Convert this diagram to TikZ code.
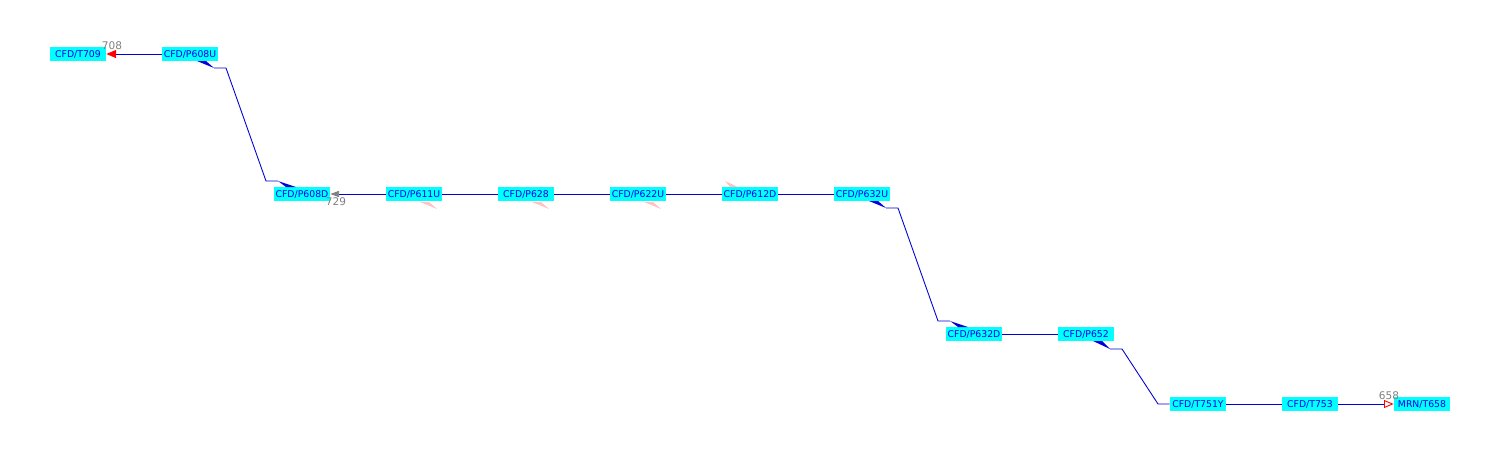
\documentclass[tikz,border=0pt]{standalone}
\usepackage{fontspec}
\setmainfont{DejaVu Sans}
\usepackage{tikz}
\usetikzlibrary{arrows.meta}
\definecolor{tagfill}{RGB}{0,255,255}
\definecolor{tagtext}{RGB}{0,0,235}
\definecolor{linkblue}{RGB}{0,0,215}
\definecolor{ghostpink}{RGB}{255,195,195}
\definecolor{numgray}{RGB}{128,128,128}
\tikzset{
	tag/.style={fill=tagfill, text=tagtext, inner sep=0pt, minimum width=1.12cm,
		minimum height=0.28cm, font=\fontsize{5.3}{6}\selectfont},
	link/.style={draw=linkblue, line width=0.5pt},
	wedge/.style={fill=linkblue},
	ghost/.style={fill=ghostpink},
	num/.style={text=numgray, inner sep=0pt, font=\fontsize{6}{7}\selectfont}
}

\begin{document}
\begin{tikzpicture}[x=0.02cm, y=-0.02cm]
		\useasboundingbox (0, 0) rectangle (1500, 460);
		% draw tags, top row
		\node [tag] (t709) at (78, 54) {CFD/T709};
		\node [tag] (p608u) at (190, 54) {CFD/P608U};
		% draw tags, second row
		\node [tag] (p608d) at (302, 194) {CFD/P608D};
		\node [tag] (p611u) at (414, 194) {CFD/P611U};
		\node [tag] (p628) at (526, 194) {CFD/P628};
		\node [tag] (p622u) at (638, 194) {CFD/P622U};
		\node [tag] (p612d) at (750, 194) {CFD/P612D};
		\node [tag] (p632u) at (862, 194) {CFD/P632U};
		% draw tags, third row
		\node [tag] (p632d) at (974, 334) {CFD/P632D};
		\node [tag] (p652) at (1086, 334) {CFD/P652};
		% draw tags, bottom row
		\node [tag] (t751y) at (1198, 404) {CFD/T751Y};
		\node [tag] (t753) at (1310, 404) {CFD/T753};
		\node [tag] (t658) at (1422, 404) {MRN/T658};
		% draw end numbers
		\node [num] (n708) at (112, 46) {708};
		\node [num] (n729) at (336, 202) {729};
		\node [num] (n658) at (1389, 396) {658};
		% draw straight links
		\draw [link, -{Triangle[color=red, length=5.5pt, width=4.5pt]}] (p608u) -- (t709);
		\draw [link, -{Triangle[color=numgray, length=5pt, width=3.5pt]}] (p611u) -- (p608d);
		\draw [link] (p611u) -- (p628);
		\draw [link] (p628) -- (p622u);
		\draw [link] (p622u) -- (p612d);
		\draw [link] (p612d) -- (p632u);
		\draw [link] (p632d) -- (p652);
		\draw [link] (t751y) -- (t753);
		\draw [link, -{Triangle[open, color=red, fill=white, length=5.5pt, width=4.5pt]}] (t753) -- (t658);
		% draw drop P608U to P608D
		\fill [wedge] ([shift={(7, 7)}]p608u.center) -- ([shift={(16, 7)}]p608u.center) -- ([shift={(24, 14)}]p608u.center) -- cycle;
		\draw [link] ([shift={(24, 14)}]p608u.center) -- ++(12, 0) -- ([shift={(-36, -13)}]p608d.center) -- ([shift={(-24, -13)}]p608d.center);
		\fill [wedge] ([shift={(-24, -13)}]p608d.center) -- ([shift={(-6, -7)}]p608d.center) -- ([shift={(-16, -7)}]p608d.center) -- cycle;
		% draw drop P632U to P632D
		\fill [wedge] ([shift={(7, 7)}]p632u.center) -- ([shift={(16, 7)}]p632u.center) -- ([shift={(24, 14)}]p632u.center) -- cycle;
		\draw [link] ([shift={(24, 14)}]p632u.center) -- ++(12, 0) -- ([shift={(-36, -13)}]p632d.center) -- ([shift={(-24, -13)}]p632d.center);
		\fill [wedge] ([shift={(-24, -13)}]p632d.center) -- ([shift={(-6, -7)}]p632d.center) -- ([shift={(-16, -7)}]p632d.center) -- cycle;
		% draw drop P652 to T751Y
		\fill [wedge] ([shift={(7, 7)}]p652.center) -- ([shift={(16, 7)}]p652.center) -- ([shift={(24, 15)}]p652.center) -- cycle;
		\draw [link] ([shift={(24, 15)}]p652.center) -- ++(12, 0) -- ([shift={(-40, 0)}]t751y.center) -- (t751y.west);
		% draw faded wedges
		\fill [ghost] ([shift={(6, 8)}]p611u.center) -- ([shift={(15, 8)}]p611u.center) -- ([shift={(23, 15)}]p611u.center) -- cycle;
		\fill [ghost] ([shift={(6, 8)}]p628.center) -- ([shift={(15, 8)}]p628.center) -- ([shift={(23, 15)}]p628.center) -- cycle;
		\fill [ghost] ([shift={(6, 8)}]p622u.center) -- ([shift={(15, 8)}]p622u.center) -- ([shift={(23, 15)}]p622u.center) -- cycle;
		\fill [ghost] ([shift={(-25, -13)}]p612d.center) -- ([shift={(-12, -7)}]p612d.center) -- ([shift={(-20, -7)}]p612d.center) -- cycle;
	\end{tikzpicture}
\end{document}
